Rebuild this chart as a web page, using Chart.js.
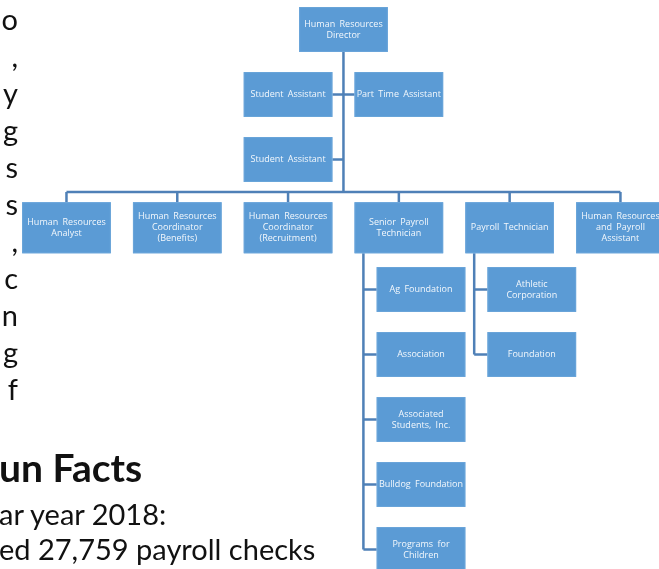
<!DOCTYPE html>
<html>
<head>
<meta charset="utf-8">
<title>Human Resources Org Chart</title>
<script src="https://cdn.jsdelivr.net/npm/chart.js@4"></script>
<style>
  html, body { margin: 0; padding: 0; background: #fff; }
  #wrap { position: relative; width: 659px; height: 569px; overflow: hidden; }
  #org { position: absolute; left: 0; top: 0; }
  .page { position: absolute; font-family: Lato, "Open Sans", sans-serif; color: #111; white-space: nowrap; }
  #para { right: 641px; top: 0; text-align: right; font-size: 29px; line-height: 37px; }
  #facts { left: -1px; top: 448px; font-size: 39px; line-height: 39px; font-weight: bold; }
  #year { left: -1px; top: 499px; font-size: 29px; line-height: 29px; }
  #checks { left: -1px; top: 534px; font-size: 29px; line-height: 29px; }
</style>
</head>
<body>
<div id="wrap">
  <canvas id="org" width="659" height="569"></canvas>
  <div class="page" id="para">o<br>,<br>y<br>g<br>s<br>s<br>,<br>c<br>n<br>g<br>f</div>
  <div class="page" id="facts">un Facts</div>
  <div class="page" id="year">ar year 2018:</div>
  <div class="page" id="checks">ed 27,759 payroll checks</div>
</div>
<script>
// org chart nodes, parent index and role in the tree
const nodeNames = [
  'Human Resources\nDirector',
  'Student Assistant',
  'Part Time Assistant',
  'Student Assistant',
  'Human Resources\nAnalyst',
  'Human Resources\nCoordinator\n(Benefits)',
  'Human Resources\nCoordinator\n(Recruitment)',
  'Senior Payroll\nTechnician',
  'Payroll Technician',
  'Human Resources\nand Payroll\nAssistant',
  'Ag Foundation',
  'Association',
  'Associated\nStudents, Inc.',
  'Bulldog Foundation',
  'Programs for\nChildren',
  'Athletic\nCorporation',
  'Foundation'
];
const nodeParents = [-1, 0, 0, 0, 0, 0, 0, 0, 0, 0, 7, 7, 7, 7, 7, 8, 8];
const nodeRoles = ['root', 'assistant', 'assistant', 'assistant',
  'staff', 'staff', 'staff', 'staff', 'staff', 'staff',
  'unit', 'unit', 'unit', 'unit', 'unit', 'unit', 'unit'];

const BOX_FILL = '#5b9bd5';
const BOX_EDGE = '#6aa5da';
const LINE_COLOR = '#4f80b7';
const BOX_W = 0.8;      // in column units
const BOX_H = 0.69;     // in row units
const STAFF_H = 0.785;

// place nodes on a column/row grid from the tree structure
const staffCount = nodeRoles.filter(r => r === 'staff').length;
const assistRows = Math.ceil(nodeRoles.filter(r => r === 'assistant').length / 2);
const staffRow = assistRows + 1.05;
const busRow = staffRow - 0.55;

const positions = [];
let aIdx = 0, sIdx = 0;
const unitCount = {};
nodeRoles.forEach((role, i) => {
  if (role === 'root') {
    positions[i] = { x: (staffCount - 1) / 2, y: 0, h: BOX_H };
  } else if (role === 'assistant') {
    const root = positions[nodeParents[i]];
    positions[i] = { x: root.x + (aIdx % 2 ? 0.5 : -0.5), y: 1 + Math.floor(aIdx / 2), h: BOX_H };
    aIdx++;
  } else if (role === 'staff') {
    positions[i] = { x: sIdx, y: staffRow, h: STAFF_H };
    sIdx++;
  } else {
    const par = nodeParents[i];
    const p = positions[par];
    const k = unitCount[par] = (unitCount[par] || 0) + 1;
    positions[i] = { x: p.x + 0.2, y: p.y + 0.95 + (k - 1), h: BOX_H };
  }
});

// connector segments
const segments = [];
const root = positions[0];
segments.push([{ x: root.x, y: root.y + root.h / 2 }, { x: root.x, y: busRow }]);
const staffX = [];
const spines = {};
nodeRoles.forEach((role, i) => {
  const p = positions[i];
  if (role === 'assistant') {
    const edge = p.x < root.x ? p.x + BOX_W / 2 : p.x - BOX_W / 2;
    segments.push([{ x: edge, y: p.y }, { x: root.x, y: p.y }]);
  } else if (role === 'staff') {
    staffX.push(p.x);
    segments.push([{ x: p.x, y: busRow }, { x: p.x, y: p.y - p.h / 2 }]);
  } else if (role === 'unit') {
    const par = positions[nodeParents[i]];
    const sx = par.x - 0.32;
    spines[nodeParents[i]] = { x: sx, top: par.y + par.h / 2, bottom: p.y };
    segments.push([{ x: sx, y: p.y }, { x: p.x - BOX_W / 2, y: p.y }]);
  }
});
segments.push([{ x: Math.min(...staffX), y: busRow }, { x: Math.max(...staffX), y: busRow }]);
Object.values(spines).forEach(s => {
  segments.push([{ x: s.x, y: s.top }, { x: s.x, y: s.bottom }]);
});

const boxPlugin = {
  id: 'orgBoxes',
  afterDatasetsDraw(chart) {
    const { ctx, scales: { x, y } } = chart;
    ctx.save();
    positions.forEach((p, i) => {
      const left = x.getPixelForValue(p.x - BOX_W / 2);
      const right = x.getPixelForValue(p.x + BOX_W / 2);
      const top = y.getPixelForValue(p.y - p.h / 2);
      const bottom = y.getPixelForValue(p.y + p.h / 2);
      ctx.fillStyle = BOX_FILL;
      ctx.fillRect(left, top, right - left, bottom - top);
      ctx.strokeStyle = BOX_EDGE;
      ctx.lineWidth = 1;
      ctx.strokeRect(left + 0.5, top + 0.5, right - left - 1, bottom - top - 1);

      const lines = nodeNames[i].split('\n');
      const lh = 11;
      const cx = (left + right) / 2;
      const cy = (top + bottom) / 2;
      ctx.fillStyle = 'rgba(255,255,255,0.93)';
      ctx.font = '9px "Open Sans"';
      ctx.wordSpacing = '2px';
      ctx.textAlign = 'center';
      ctx.textBaseline = 'middle';
      lines.forEach((t, k) => {
        ctx.fillText(t, cx, cy + (k - (lines.length - 1) / 2) * lh);
      });
    });
    ctx.restore();
  }
};

new Chart(document.getElementById('org'), {
  type: 'scatter',
  data: {
    datasets: segments.map(seg => ({
      type: 'line',
      data: seg,
      showLine: true,
      borderColor: LINE_COLOR,
      borderWidth: 2.5,
      borderCapStyle: 'butt',
      pointRadius: 0,
      fill: false,
      tension: 0
    }))
  },
  options: {
    responsive: false,
    animation: false,
    events: [],
    layout: { padding: 0 },
    plugins: { legend: { display: false }, tooltip: { enabled: false } },
    scales: {
      x: { type: 'linear', min: -0.6, max: 5.348, display: false },
      y: { type: 'linear', min: -0.454, max: 8.30, reverse: true, display: false }
    }
  },
  plugins: [boxPlugin]
});
</script>
</body>
</html>
